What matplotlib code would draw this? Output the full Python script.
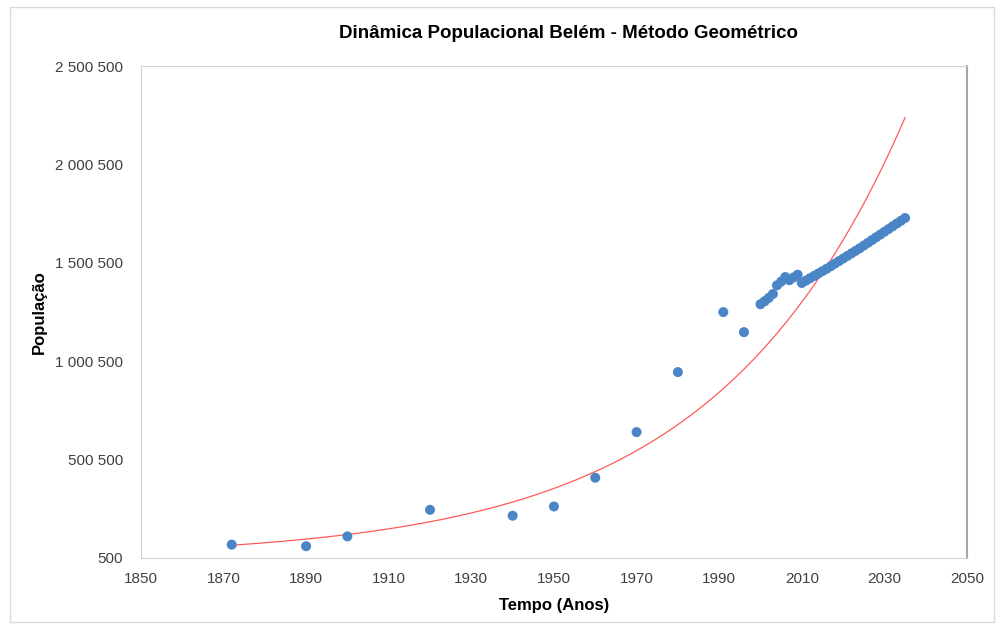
import numpy as np
import matplotlib.pyplot as plt
from matplotlib.ticker import FuncFormatter
from matplotlib.patches import Rectangle

plt.rcParams['font.family'] = ['Liberation Sans', 'DejaVu Sans']

# censos / estimativas
anos_censo = [1872, 1890, 1900, 1920, 1940, 1950, 1960, 1970, 1980, 1991, 1996]
pop_censo = [68000, 60000, 110000, 245000, 215000, 262000, 408000, 640000, 945000, 1250000, 1148000]

# estimativas anuais e projecao
anos_proj = list(range(2000, 2036))
pop_proj = [1290000, 1305000, 1322000, 1342000, 1386000, 1405000, 1428000, 1412000,
            1426000, 1440000, 1398000, 1410000, 1422000, 1434000, 1446000, 1458000,
            1470000, 1483000, 1496000, 1509000, 1522000, 1535000, 1548000, 1561000,
            1574000, 1588000, 1602000, 1616000, 1630000, 1644000, 1658000, 1672000,
            1686000, 1700000, 1714000, 1728000]

# modelo geometrico P(t) = P0 * (1 + r)^(t - t0)
t0 = 1872
P0 = 65000
r = 0.02195
anos_modelo = np.arange(1872, 2035.5, 0.5)
pop_modelo = P0 * (1 + r) ** (anos_modelo - t0)

fig = plt.figure(figsize=(9.99, 6.29), dpi=100)
ax = fig.add_axes([0.141, 0.113, 0.827, 0.782])

fig.patches.append(Rectangle((0.010, 0.011), 0.985, 0.978, transform=fig.transFigure,
                             fill=False, edgecolor='#d9d9d9', linewidth=1))

ax.plot(anos_modelo, pop_modelo, color='#ff5a5a', linewidth=0.9, zorder=2)
ax.scatter(anos_censo + anos_proj, pop_censo + pop_proj, s=52, color='#4a86c5',
           edgecolors='none', zorder=3)

ax.set_xlim(1850, 2050)
ax.set_ylim(500, 2500500)
ax.set_xticks(range(1850, 2051, 20))
ax.set_yticks(range(500, 2500501, 500000))
ax.yaxis.set_major_formatter(FuncFormatter(lambda v, p: f'{int(v):,}'.replace(',', ' ')))

ax.tick_params(length=0, labelsize=11, labelcolor='#404040')
ax.tick_params(axis='y', pad=13)
ax.tick_params(axis='x', pad=10)
for s in ['left', 'top', 'bottom']:
    ax.spines[s].set_color('#d0d0d0')
ax.spines['right'].set_color('#a6a6a6')
ax.spines['right'].set_linewidth(1.5)

fig.text(0.569, 0.947, 'Dinâmica Populacional Belém - Método Geométrico', fontsize=13.5,
         fontweight='bold', ha='center', va='center')
ax.set_xlabel('Tempo (Anos)', fontsize=12, fontweight='bold', labelpad=9)
ax.set_ylabel('População', fontsize=12, fontweight='bold', labelpad=6)

plt.savefig('out.png', dpi=100)
